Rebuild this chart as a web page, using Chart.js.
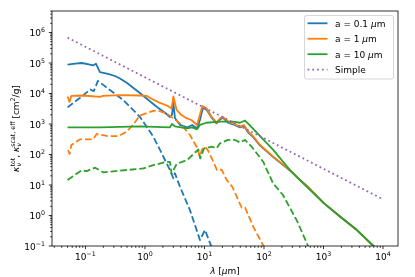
<!DOCTYPE html>
<html>

<head>
    <meta charset="UTF-8">
    <script src="https://cdn.jsdelivr.net/npm/chart.js"></script>
    <style>
        html, body { margin: 0; padding: 0; background: #fff; }
        #wrap { width: 415px; height: 277px; }
    </style>
</head>

<body>
    <div id="wrap"><canvas id="opacityChart"></canvas></div>
    <script>
        // wavelength [micron] and opacity [cm^2/g]
        const totSmallLam = [0.05, 0.067, 0.087, 0.119, 0.134, 0.15, 0.175, 0.239, 0.313, 0.38, 0.5, 0.82, 1.59, 2.2, 2.63, 2.84, 3.0, 3.19, 3.45, 3.87, 5.1, 6.2, 7.5, 8.4, 9.4, 10.8, 13.1, 15.9, 18.2, 20.5, 25, 30, 39.5, 46, 54.5, 66, 86, 143, 273, 403, 550, 1000, 1890, 3600, 6900, 8000];
        const totSmallKap = [8.9e4, 9.5e4, 1.0e5, 8.9e4, 8.3e4, 9.5e4, 5.0e4, 4.4e4, 3.75e4, 3.1e4, 2.2e4, 1.04e4, 3.6e3, 2.3e3, 1.7e3, 2.0e3, 4.9e3, 1.57e3, 1.25e3, 930, 770, 930, 710, 1.35e3, 3.35e3, 3.0e3, 1.65e3, 1.05e3, 1.4e3, 1.6e3, 1.1e3, 980, 770, 870, 520, 370, 195, 82, 30, 14.6, 8.6, 2.6, 0.93, 0.34, 0.1, 0.077];

        const scatSmallLam = [0.05, 0.091, 0.12, 0.138, 0.162, 0.258, 0.43, 0.82, 1.38, 1.79, 2.63, 2.99, 3.19, 3.87, 5.7, 8.4, 10.2, 13, 15];
        const scatSmallKap = [3.5e3, 8.6e3, 1.35e4, 1.2e4, 2.6e4, 1.3e4, 6.1e3, 1.73e3, 384, 141, 31, 16.6, 24.2, 8.8, 1.5, 0.157, 0.335, 0.098, 0.065];

        const totMidLam = [0.05, 0.054, 0.058, 0.091, 0.175, 0.197, 0.38, 0.82, 1.08, 1.36, 1.79, 2.34, 2.8, 3.0, 3.4, 4.1, 5.0, 6.0, 7.5, 9.2, 10.8, 13.1, 15.9, 18.2, 20.5, 25, 30, 39.5, 46, 54.5, 66, 86, 143, 273, 403, 550, 1000, 1890, 3600, 6900, 8000];
        const totMidKap = [8.0e3, 5.3e3, 8.3e3, 8.6e3, 7.7e3, 8.3e3, 8.9e3, 8.6e3, 8.3e3, 6.4e3, 4.9e3, 4.05e3, 3.2e3, 8.0e3, 2.9e3, 1.97e3, 1.55e3, 1.35e3, 930, 3.9e3, 3.3e3, 1.76e3, 1.12e3, 1.54e3, 1.7e3, 1.2e3, 1.05e3, 820, 930, 560, 390, 205, 85, 31, 14.6, 8.7, 2.6, 0.93, 0.34, 0.1, 0.077];

        const scatMidLam = [0.051, 0.054, 0.058, 0.081, 0.135, 0.154, 0.242, 0.356, 0.49, 0.63, 0.82, 1.38, 1.6, 2.3, 3.87, 5.7, 7.4, 8.4, 9.0, 10.2, 11.6, 14.1, 16.2, 19.4, 23.6, 29.5, 42, 48, 66, 98, 105];
        const scatMidKap = [141, 104, 205, 315, 315, 470, 400, 400, 560, 930, 1.9e3, 2.7e3, 2.8e3, 2.24e3, 1.05e3, 435, 176, 85, 141, 183, 130, 58, 31, 32, 14.6, 8.6, 1.83, 1.83, 0.43, 0.1, 0.075];

        const totBigLam = [0.05, 0.175, 0.82, 2.63, 2.84, 3.19, 5.1, 6.2, 7.5, 8.4, 10.8, 18.2, 30, 39.5, 48, 58, 86, 143, 273, 520, 1000, 1890, 3600, 6900, 8000];
        const totBigKap = [770, 770, 830, 780, 1000, 840, 720, 770, 670, 930, 1100, 1200, 1200, 1100, 1300, 900, 400, 141, 31, 8.8, 2.6, 0.93, 0.34, 0.1, 0.077];

        const scatBigLam = [0.05, 0.086, 0.105, 0.145, 0.2, 0.29, 0.94, 1.38, 2.3, 2.63, 2.8, 3.4, 5.1, 7.9, 8.5, 9.8, 13.2, 16, 18.2, 24.8, 32.6, 39.5, 48, 62, 97, 142, 208, 360, 550, 600];
        const scatBigKap = [14.6, 30, 28.5, 37, 26, 28, 35, 45, 57, 57, 23, 49, 66, 146, 74, 157, 180, 160, 233, 300, 300, 250, 300, 180, 58, 11.4, 4.7, 0.66, 0.1, 0.07];

        const simpleLam = [0.05, 0.1, 1, 10, 100, 1000, 10000];
        const simpleKap = [6.8e5, 3.4e5, 3.4e4, 3.4e3, 340, 34, 3.4];

        const xDecades = [-1, 0, 1, 2, 3, 4];
        const yDecades = [-1, 0, 1, 2, 3, 4, 5, 6];

        const FONT = '"DejaVu Sans"';
        const BLUE = '#1f77b4', ORANGE = '#ff7f0e', GREEN = '#2ca02c', PURPLE = '#9467bd';
        const LW = 1.8, DASH = [6.7, 2.9], DOT = [1.8, 3.0];

        function zip(xs, ys) {
            return xs.map((v, i) => ({ x: v, y: ys[i] }));
        }

        function line(label, xs, ys, color, dash) {
            return {
                label: label,
                data: zip(xs, ys),
                borderColor: color,
                backgroundColor: color,
                borderWidth: LW,
                borderDash: dash,
                borderJoinStyle: 'round',
                showLine: true,
                pointRadius: 0,
                tension: 0,
                fill: false,
            };
        }

        // rich text runs: sub/superscripts with mathtext-like sizes
        function runFont(r) {
            return (r.it ? 'italic ' : '') + r.s + 'px ' + FONT;
        }

        function drawRuns(ctx, runs, x, y, draw) {
            let cx = x, lastStart = x, lastW = 0;
            for (const r of runs) {
                ctx.font = runFont(r);
                const w = ctx.measureText(r.t).width;
                if (r.stack) {
                    if (draw) ctx.fillText(r.t, lastStart, y + (r.dy || 0));
                    lastW = Math.max(lastW, w);
                    cx = lastStart + lastW;
                } else {
                    if (draw) ctx.fillText(r.t, cx, y + (r.dy || 0));
                    lastStart = cx;
                    lastW = w;
                    cx += w;
                }
            }
            return cx - x;
        }

        function powRuns(e) {
            return [{ t: '10', s: 9 }, { t: e < 0 ? '\u2212' + (-e) : String(e), s: 6.3, dy: -4 }];
        }

        const legendItems = [
            { label: 'a = 0.1 \u03bcm', runs: [{ t: 'a = 0.1 ', s: 9 }, { t: '\u03bc', s: 9, it: true }, { t: 'm', s: 9 }] },
            { label: 'a = 1 \u03bcm', runs: [{ t: 'a = 1 ', s: 9 }, { t: '\u03bc', s: 9, it: true }, { t: 'm', s: 9 }] },
            { label: 'a = 10 \u03bcm', runs: [{ t: 'a = 10 ', s: 9 }, { t: '\u03bc', s: 9, it: true }, { t: 'm', s: 9 }] },
            { label: 'Simple', runs: [{ t: 'Simple', s: 9 }] },
        ];

        const decorPlugin = {
            id: 'decor',
            afterDraw(chart) {
                const ctx = chart.ctx, a = chart.chartArea;
                const xs = chart.scales.x, ys = chart.scales.y;
                ctx.save();
                ctx.fillStyle = '#000';
                ctx.strokeStyle = '#000';

                // frame
                ctx.lineWidth = 0.8;
                ctx.strokeRect(a.left, a.top, a.right - a.left, a.bottom - a.top);

                // ticks, major and minor
                ctx.beginPath();
                for (let e = -3; e <= 7; e++) {
                    for (let d = 1; d < 10; d++) {
                        const v = d * Math.pow(10, e);
                        const len = d === 1 ? 3.2 : 1.8;
                        if (v >= xs.min && v <= xs.max) {
                            const px = xs.getPixelForValue(v);
                            ctx.moveTo(px, a.bottom);
                            ctx.lineTo(px, a.bottom + len);
                        }
                        if (v >= ys.min && v <= ys.max) {
                            const py = ys.getPixelForValue(v);
                            ctx.moveTo(a.left, py);
                            ctx.lineTo(a.left - len, py);
                        }
                    }
                }
                ctx.stroke();

                // tick labels
                ctx.textBaseline = 'alphabetic';
                ctx.textAlign = 'left';
                xDecades.forEach(e => {
                    const runs = powRuns(e);
                    const w = drawRuns(ctx, runs, 0, 0, false);
                    const px = xs.getPixelForValue(Math.pow(10, e));
                    drawRuns(ctx, runs, px - w / 2, a.bottom + 14.3, true);
                });
                yDecades.forEach(e => {
                    const runs = powRuns(e);
                    const w = drawRuns(ctx, runs, 0, 0, false);
                    const py = ys.getPixelForValue(Math.pow(10, e));
                    drawRuns(ctx, runs, a.left - 7 - w, py + 3.5, true);
                });

                // x title
                const xRuns = [{ t: '\u03bb', s: 9, it: true }, { t: ' [', s: 9 }, { t: '\u03bc', s: 9, it: true }, { t: 'm]', s: 9 }];
                const xw = drawRuns(ctx, xRuns, 0, 0, false);
                drawRuns(ctx, xRuns, (a.left + a.right) / 2 - xw / 2, 274, true);

                // y title, rotated
                const yRuns = [
                    { t: '\u03ba', s: 9, it: true },
                    { t: '\u03bd', s: 6.3, it: true, dy: 2.3 },
                    { t: 'tot', s: 6.3, dy: -4, stack: true },
                    { t: ', ', s: 9 },
                    { t: '\u03ba', s: 9, it: true },
                    { t: '\u03bd', s: 6.3, it: true, dy: 2.3 },
                    { t: 'scat, eff', s: 6.3, dy: -4, stack: true },
                    { t: ' [cm', s: 9 },
                    { t: '2', s: 6.3, dy: -4 },
                    { t: '/g]', s: 9 },
                ];
                const yw = drawRuns(ctx, yRuns, 0, 0, false);
                ctx.save();
                ctx.translate(18.5, (a.top + a.bottom) / 2);
                ctx.rotate(-Math.PI / 2);
                drawRuns(ctx, yRuns, -yw / 2, 0, true);
                ctx.restore();

                // legend
                const bx = 304.5, by = 15.5, bw = 89, bh = 63.5;
                ctx.beginPath();
                ctx.roundRect(bx, by, bw, bh, 2);
                ctx.fillStyle = 'rgba(255,255,255,0.8)';
                ctx.fill();
                ctx.strokeStyle = '#cccccc';
                ctx.lineWidth = 0.8;
                ctx.stroke();
                legendItems.forEach((item, i) => {
                    const ds = chart.data.datasets.find(d => d.label === item.label);
                    const ry = 23.3 + i * 15.45;
                    ctx.beginPath();
                    ctx.setLineDash(ds.borderDash || []);
                    ctx.strokeStyle = ds.borderColor;
                    ctx.lineWidth = ds.borderWidth;
                    ctx.moveTo(307.5, ry);
                    ctx.lineTo(327.5, ry);
                    ctx.stroke();
                    ctx.setLineDash([]);
                    ctx.fillStyle = '#000';
                    drawRuns(ctx, item.runs, 335, ry + 3.3, true);
                });

                ctx.restore();
            }
        };

        // first dataset is drawn on top, so the list runs backwards
        const datasets = [
            line('Simple', simpleLam, simpleKap, PURPLE, DOT),
            line('scat 10', scatBigLam, scatBigKap, GREEN, DASH),
            line('a = 10 \u03bcm', totBigLam, totBigKap, GREEN, []),
            line('scat 1', scatMidLam, scatMidKap, ORANGE, DASH),
            line('a = 1 \u03bcm', totMidLam, totMidKap, ORANGE, []),
            line('scat 0.1', scatSmallLam, scatSmallKap, BLUE, DASH),
            line('a = 0.1 \u03bcm', totSmallLam, totSmallKap, BLUE, []),
        ];

        new Chart(document.getElementById('opacityChart'), {
            type: 'scatter',
            data: { datasets: datasets },
            options: {
                responsive: true,
                maintainAspectRatio: false,
                animation: false,
                layout: { padding: { left: 0, top: 11, right: 17, bottom: 0 } },
                plugins: { legend: { display: false }, tooltip: { enabled: false } },
                scales: {
                    x: {
                        type: 'logarithmic',
                        min: 0.0274,
                        max: 17860,
                        ticks: { display: false },
                        grid: { display: false },
                        border: { display: false },
                        afterFit: s => { s.height = 31; },
                    },
                    y: {
                        type: 'logarithmic',
                        min: 0.1,
                        max: 5.07e6,
                        ticks: { display: false },
                        grid: { display: false },
                        border: { display: false },
                        afterFit: s => { s.width = 52; },
                    },
                },
            },
            plugins: [decorPlugin],
        });
    </script>
</body>

</html>
